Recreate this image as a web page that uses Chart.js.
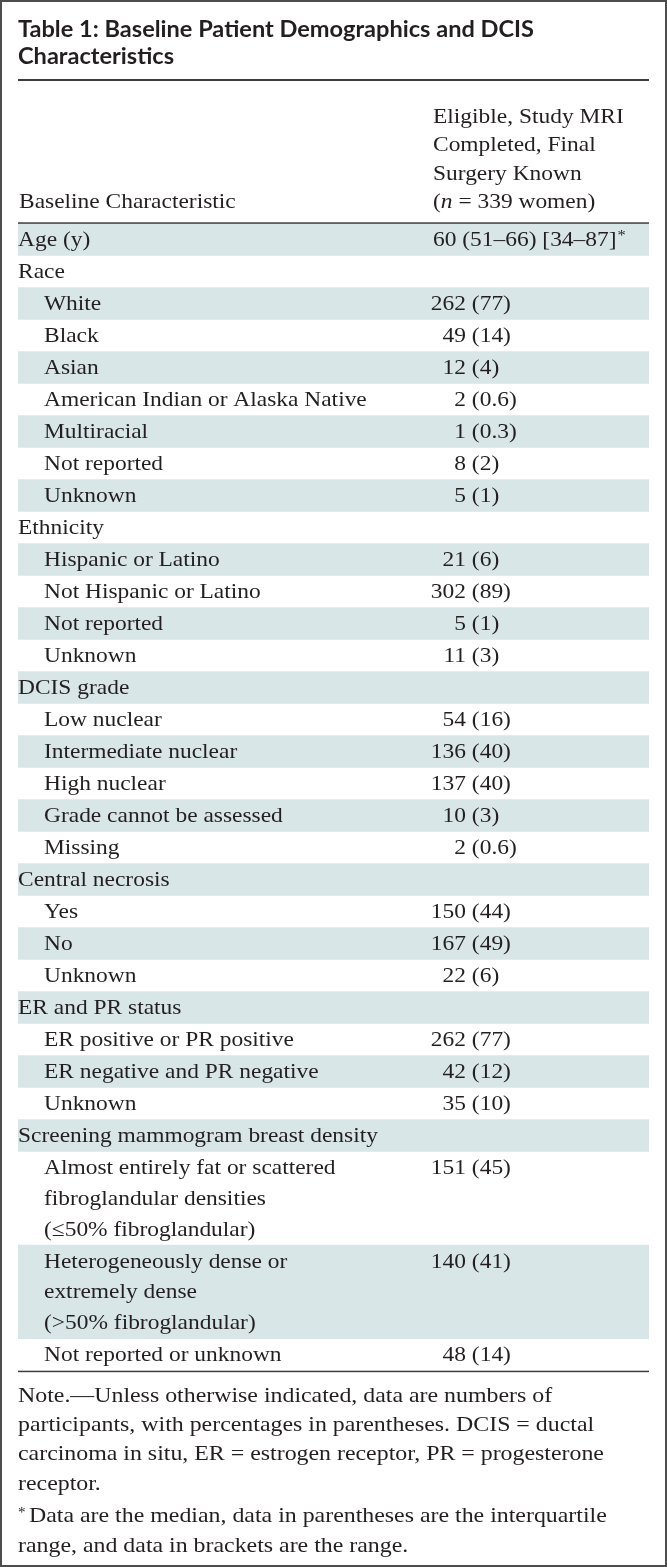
<!DOCTYPE html>
<html>
<head>
<meta charset="utf-8">
<script src="https://cdn.jsdelivr.net/npm/chart.js@4.4.0/dist/chart.umd.min.js"></script>
<style>
  html, body { margin: 0; padding: 0; background: #fff; }
  #wrap { width: 667px; height: 1567px; position: relative; }
</style>
</head>
<body>
<div id="wrap"><canvas id="tbl"></canvas></div>
<script>
// table content
const titleLines = ["Table 1: Baseline Patient Demographics and DCIS", "Characteristics"];
const stubHeader = "Baseline Characteristic";
const colHeader = ["Eligible, Study MRI", "Completed, Final", "Surgery Known", "(n = 339 women)"];

const rowLabels = [
  "Age (y)",
  "Race", "White", "Black", "Asian", "American Indian or Alaska Native", "Multiracial", "Not reported", "Unknown",
  "Ethnicity", "Hispanic or Latino", "Not Hispanic or Latino", "Not reported", "Unknown",
  "DCIS grade", "Low nuclear", "Intermediate nuclear", "High nuclear", "Grade cannot be assessed", "Missing",
  "Central necrosis", "Yes", "No", "Unknown",
  "ER and PR status", "ER positive or PR positive", "ER negative and PR negative", "Unknown",
  "Screening mammogram breast density",
  ["Almost entirely fat or scattered", "fibroglandular densities", "(\u226450% fibroglandular)"],
  ["Heterogeneously dense or", "extremely dense", "(>50% fibroglandular)"],
  "Not reported or unknown"
];
const rowLevels = [0, 0, 1, 1, 1, 1, 1, 1, 1, 0, 1, 1, 1, 1, 0, 1, 1, 1, 1, 1, 0, 1, 1, 1, 0, 1, 1, 1, 0, 1, 1, 1];
const counts   = [null, null, 262, 49, 12, 2, 1, 8, 5, null, 21, 302, 5, 11, null, 54, 136, 137, 10, 2, null, 150, 167, 22, null, 262, 42, 35, null, 151, 140, 48];
const percents = [null, null, 77, 14, 4, 0.6, 0.3, 2, 1, null, 6, 89, 1, 3, null, 16, 40, 40, 3, 0.6, null, 44, 49, 6, null, 77, 12, 10, null, 45, 41, 14];
const ageMedian = 60;
const ageIQR = [51, 66];
const ageRange = [34, 87];

const noteLines = [
  "Note.\u2014Unless otherwise indicated, data are numbers of",
  "participants, with percentages in parentheses. DCIS = ductal",
  "carcinoma in situ, ER = estrogen receptor, PR = progesterone",
  "receptor."
];
const footLines = [
  "Data are the median, data in parentheses are the interquartile",
  "range, and data in brackets are the range."
];

// layout
const W = 667, H = 1567;
const LINE_H = 30.8, ROW_PAD = 1.2;
const BODY_TOP = 223.5;
const SHADE = "#d8e6e7";
const INK = "#231f20";
const SERIF = "'Liberation Serif', serif";
const SANS = "Lato, 'DejaVu Sans', sans-serif";
const BODY_FONT = "21.5px " + SERIF;
const BODY_SX = 1.09;
const NOTE_FONT = "21.5px " + SERIF;
const NOTE_SX = 1.11;

const lineCount = rowLabels.map(l => Array.isArray(l) ? l.length : 1);
const rowTops = [];
let acc = 0;
lineCount.forEach(n => { rowTops.push(acc); acc += n * LINE_H + ROW_PAD; });
const bodyTotal = acc;

const shaded = [];
rowTops.forEach((t, i) => {
  if (i % 2 === 0) shaded.push({ x: "rows", y: [t, t + lineCount[i] * LINE_H + ROW_PAD] });
});

function fmtPct(p) { return "(" + p + ")"; }

// draws text slightly widened, returns the drawn width
function txt(ctx, s, x, y, font, align, sx) {
  sx = sx || BODY_SX;
  ctx.save();
  ctx.font = font;
  ctx.textAlign = align || "left";
  ctx.translate(x, y);
  ctx.scale(sx, 1);
  ctx.fillText(s, 0, 0);
  const w = ctx.measureText(s).width * sx;
  ctx.restore();
  return w;
}

const tablePlugin = {
  id: "tableText",
  beforeDraw(chart) {
    const ctx = chart.ctx;
    ctx.save();
    ctx.fillStyle = "#fff";
    ctx.fillRect(0, 0, W, H);
    ctx.restore();
  },
  afterDatasetsDraw(chart) {
    const { ctx, chartArea: a, scales: { y } } = chart;
    ctx.save();
    ctx.fillStyle = INK;
    ctx.textBaseline = "alphabetic";

    // title, sized to the printed width
    ctx.font = "bold 20px " + SANS;
    const tsize = 20 * 516 / ctx.measureText(titleLines[0]).width;
    const tfont = "bold " + tsize.toFixed(2) + "px " + SANS;
    txt(ctx, titleLines[0], a.left, 37, tfont, "left", 1);
    txt(ctx, titleLines[1], a.left, 64, tfont, "left", 1);

    // rules
    ctx.fillStyle = "#3c3c3c";
    ctx.fillRect(a.left, 79, a.right - a.left, 2);
    ctx.fillRect(a.left, a.top - 1.2, a.right - a.left, 1.5);
    ctx.fillRect(a.left, a.bottom, a.right - a.left, 1.5);
    ctx.fillStyle = INK;

    // column headers
    const colX = a.left + 415;
    colHeader.forEach((s, i) => {
      const by = 123 + i * 28.3;
      if (s.startsWith("(n")) {
        let x = colX;
        x += txt(ctx, "(", x, by, BODY_FONT);
        x += txt(ctx, "n", x, by, "italic " + BODY_FONT);
        txt(ctx, s.slice(2), x, by, BODY_FONT);
      } else {
        txt(ctx, s, colX, by, BODY_FONT);
      }
    });
    txt(ctx, stubHeader, a.left + 1, 123 + 3 * 28.3, BODY_FONT);

    // body rows
    const countRight = a.left + 448;
    rowLabels.forEach((lab, i) => {
      const top = y.getPixelForValue(rowTops[i]);
      const base = top + 22.5;
      const lx = a.left + (rowLevels[i] ? 26 : 0);
      const lines = Array.isArray(lab) ? lab : [lab];
      lines.forEach((s, k) => txt(ctx, s, lx, base + k * LINE_H, BODY_FONT));
      if (i === 0) {
        const w = txt(ctx, ageMedian + " (" + ageIQR[0] + "\u2013" + ageIQR[1] + ") [" + ageRange[0] + "\u2013" + ageRange[1] + "]",
          colX, base, BODY_FONT);
        txt(ctx, "*", colX + w + 1, base - 6, "15px " + SERIF);
      } else if (counts[i] != null) {
        txt(ctx, String(counts[i]), countRight, base, BODY_FONT, "right");
        txt(ctx, " " + fmtPct(percents[i]), countRight, base, BODY_FONT, "left");
      }
    });

    // notes
    const nb = a.bottom + 31;
    noteLines.forEach((s, k) => txt(ctx, s, a.left, nb + k * 29.3, NOTE_FONT, "left", NOTE_SX));
    const fy = nb + 3 * 29.3 + 32;
    txt(ctx, "*", a.left, fy - 5, "15px " + SERIF, "left", 1);
    txt(ctx, footLines[0], a.left + 11, fy, NOTE_FONT, "left", NOTE_SX);
    txt(ctx, footLines[1], a.left, fy + 30, NOTE_FONT, "left", NOTE_SX);

    // outer frame
    ctx.strokeStyle = "#4d4d4d";
    ctx.lineWidth = 2;
    ctx.strokeRect(1, 1, W - 2, H - 2);
    ctx.restore();
  }
};

new Chart(document.getElementById("tbl"), {
  type: "bar",
  data: {
    labels: ["rows"],
    datasets: [{
      data: shaded,
      backgroundColor: SHADE,
      borderWidth: 0,
      barPercentage: 1,
      categoryPercentage: 1,
      grouped: false
    }]
  },
  options: {
    responsive: true,
    maintainAspectRatio: false,
    animation: false,
    devicePixelRatio: 1,
    layout: { padding: { left: 18, right: 18, top: BODY_TOP, bottom: H - BODY_TOP - bodyTotal } },
    plugins: { legend: { display: false }, tooltip: { enabled: false }, title: { display: false } },
    scales: {
      x: { display: false },
      y: { display: false, reverse: true, min: 0, max: bodyTotal }
    }
  },
  plugins: [tablePlugin]
});
</script>
</body>
</html>
